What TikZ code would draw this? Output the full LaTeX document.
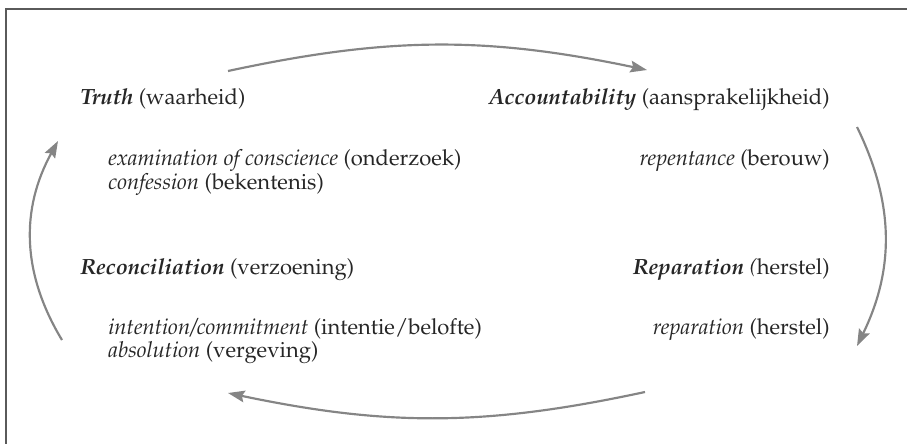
\documentclass[tikz,border=0pt]{standalone}
\usepackage[T1]{fontenc}
\usepackage{mathpazo}
\usepackage{xcolor}
\usetikzlibrary{arrows.meta, positioning, calc}

\definecolor{framegray}{HTML}{5A5A5A}
\definecolor{arrowgray}{HTML}{858585}
\definecolor{textgray}{HTML}{262626}

\tikzset{
  lbl/.style={inner sep=0pt, text=textgray, font=\fontsize{13.2}{15}\selectfont},
  cyclearrow/.style={arrowgray, line width=1.3pt,
    -{Stealth[length=10pt, width=7pt, inset=1.5pt]}}
}

\begin{document}
\begin{tikzpicture}[x=0.6pt, y=-0.6pt]
      \useasboundingbox (0,0) rectangle (907,443);
      \clip (0,0) rectangle (907,443);
      \draw[framegray, line width=0.9pt] (6,460) -- (6,9) -- (920,9);

      % upper left
      \node[lbl, anchor=base west] (truth) at (80,104) {\textbf{\textit{Truth}} (waarheid)};
      \node[lbl, anchor=base west] (truthA) at (108,165) {\textit{examination of conscience} (onderzoek)};
      \node[lbl, anchor=base west] (truthB) at (108,189) {\textit{confession} (bekentenis)};

      % upper right
      \node[lbl, anchor=base east] (account) at (830,104) {\textbf{\textit{Accountability}} (aansprakelijkheid)};
      \node[lbl, anchor=base east] (accountA) at (830,165) {\textit{repentance} (berouw)};

      % lower right
      \node[lbl, anchor=base east] (repar) at (830,274) {\textbf{\textit{Reparation}} \textit{(}herstel)};
      \node[lbl, anchor=base east] (reparA) at (830,334) {\textit{reparation} (herstel)};

      % lower left
      \node[lbl, anchor=base west] (recon) at (80,274) {\textbf{\textit{Reconciliation}} (verzoening)};
      \node[lbl, anchor=base west] (reconA) at (108,334) {\textit{intention/commitment} (intentie/belofte)};
      \node[lbl, anchor=base west] (reconB) at (108,357) {\textit{absolution} (vergeving)};

      % arrow ends
      \coordinate (topS) at (228,71);
      \coordinate (topE) at (647,70);
      \coordinate (rightS) at (857,127);
      \coordinate (rightE) at (857,346);
      \coordinate (botS) at (645,392);
      \coordinate (botE) at (228,393);
      \coordinate (leftS) at (62,340);
      \coordinate (leftE) at (58,141);

      \draw[cyclearrow] (topS) to[bend left=12] (topE);
      \draw[cyclearrow] (rightS) to[bend left=26] (rightE);
      \draw[cyclearrow] (botS) to[bend left=12] (botE);
      \draw[cyclearrow] (leftS) to[bend left=30] (leftE);
    \end{tikzpicture}
\end{document}
